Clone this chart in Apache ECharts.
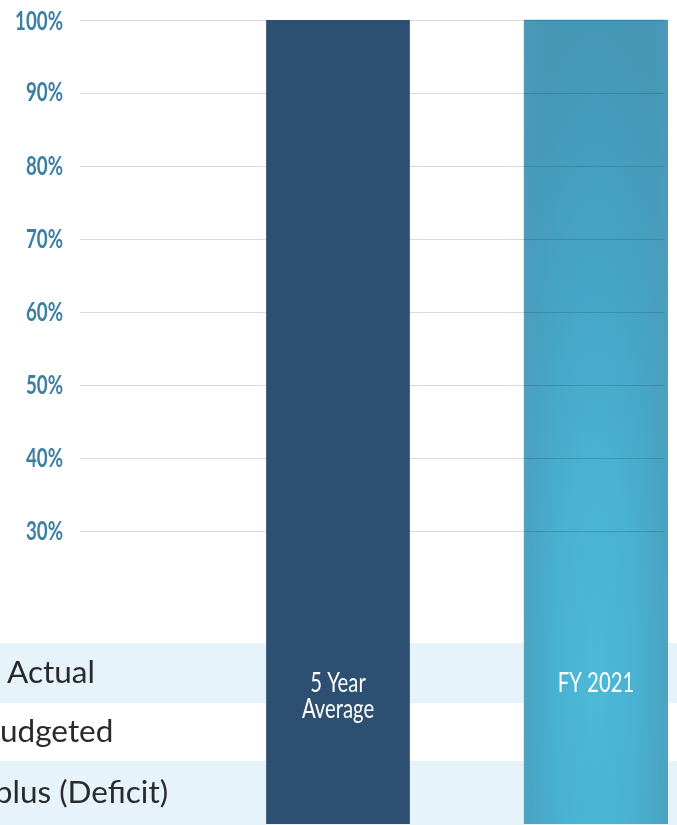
<!DOCTYPE html>
<html>
<head>
<meta charset="utf-8">
<script src="https://cdn.jsdelivr.net/npm/echarts@6/dist/echarts.min.js"></script>
<style>
html,body{margin:0;padding:0;background:#fff;}
#chart{width:677px;height:825px;}
</style>
</head>
<body>
<div id="chart"></div>
<script>
// ---- data ----
const categories = ['5 Year\nAverage', 'FY 2021'];
const values = [100, 100];           // percent
const yTicks = [30, 40, 50, 60, 70, 80, 90, 100];
const tableRows = ['Actual', 'Budgeted', 'Surplus (Deficit)'];

const Y_MIN = -10, Y_MAX = 100, X_MAX = 2.2636;

const chart = echarts.init(document.getElementById('chart'));

const seriesData = values.map((v, i) => [i + 1, v, i]);

// gridline colours: hide lines below first tick label
const lineColors = [];
for (let t = Y_MIN; t <= Y_MAX; t += 10) {
  lineColors.push(yTicks.indexOf(t) >= 0 ? 'rgba(0,0,0,0.14)' : 'rgba(0,0,0,0)');
}

// table row backgrounds (layout)
const rowTops = [643, 703, 761];
const rowBottoms = [703, 761, 825];
const rowFills = ['#e6f3fa', '#ffffff', '#e6f3fa'];
const rowTextX = [7, -20, -51];
const graphics = [];
tableRows.forEach((t, i) => {
  graphics.push({
    type: 'rect', z: 0,
    shape: {x: 0, y: rowTops[i], width: 677, height: rowBottoms[i] - rowTops[i]},
    style: {fill: rowFills[i]}
  });
  graphics.push({
    type: 'text', z: 1,
    x: rowTextX[i], y: (rowTops[i] + rowBottoms[i]) / 2,
    style: {text: t, fill: '#2a2a2a', font: '31.5px Lato', textAlign: 'left', textVerticalAlign: 'middle'}
  });
});

function renderBar(params, api) {
  const x = api.value(0), v = api.value(1), idx = api.value(2);
  const top = api.coord([x, v]);
  const bot = api.coord([x, Y_MIN]);
  const w = api.size([1, 0])[0] * 0.557;
  const rx = top[0] - w / 2, ry = top[1], rh = bot[1] - top[1];
  const children = [];
  if (idx === 0) {
    children.push({type: 'rect', shape: {x: rx, y: ry, width: w, height: rh},
      style: {fill: '#2d4f72'}});
  } else {
    children.push({type: 'rect', shape: {x: rx, y: ry, width: w, height: rh},
      style: {fill: '#4594b3'}});
    children.push({type: 'rect', x: rx, y: ry, scaleY: rh / w,
      shape: {x: 0, y: 0, width: w, height: w},
      style: {fill: {type: 'radial', x: 0.5, y: 0.82, r: 0.95, colorStops: [
        {offset: 0, color: '#4cbad8'}, {offset: 0.3, color: '#49b1d1'},
        {offset: 0.55, color: '#46a4c5'}, {offset: 0.85, color: '#4597b6'}, {offset: 1, color: '#4594b3'}]}}});
    children.push({type: 'rect', shape: {x: rx, y: ry, width: w, height: rh},
      style: {fill: {type: 'linear', x: 0, y: 0, x2: 1, y2: 0, colorStops: [
        {offset: 0, color: 'rgba(80,160,190,0.5)'}, {offset: 0.1, color: 'rgba(80,160,190,0.15)'},
        {offset: 0.2, color: 'rgba(80,160,190,0)'}, {offset: 0.8, color: 'rgba(80,160,190,0)'},
        {offset: 0.9, color: 'rgba(80,160,190,0.15)'}, {offset: 1, color: 'rgba(80,160,190,0.5)'}]}}});
    children.push({type: 'line', shape: {x1: rx - 0.5, y1: ry, x2: rx - 0.5, y2: ry + rh},
      style: {stroke: 'rgba(225,205,160,0.6)', lineWidth: 1}});
    children.push({type: 'line', shape: {x1: rx, y1: ry - 0.5, x2: rx + w, y2: ry - 0.5},
      style: {stroke: 'rgba(225,205,160,0.6)', lineWidth: 1}});
  }
  children.push({
    type: 'text', x: top[0], y: bot[1] - 153, scaleX: 0.78,
    style: {text: categories[idx], fill: '#ffffff', font: '26px Lato',
      textAlign: 'center', textVerticalAlign: 'top', lineHeight: 26}
  });
  return {type: 'group', children: children};
}

function renderTick(params, api) {
  const v = api.value(0);
  const p = api.coord([0, v]);
  return {
    type: 'text', x: 63, y: p[1] + (v === 100 ? 2 : 0), scaleX: 0.72,
    style: {text: v + '%', fill: '#3b80a3', font: 'bold 26px Lato',
      textAlign: 'right', textVerticalAlign: 'middle'}
  };
}

chart.setOption({
  animation: false,
  grid: {left: 80, right: 13, top: 20, bottom: 1},
  xAxis: {type: 'value', min: 0, max: X_MAX, show: false},
  yAxis: {
    type: 'value', min: Y_MIN, max: Y_MAX, interval: 10, z: 5,
    axisLine: {show: false}, axisTick: {show: false},
    axisLabel: {show: false},
    splitLine: {lineStyle: {color: lineColors, width: 1}}
  },
  graphic: graphics,
  series: [{
    type: 'custom', z: 2, clip: false, name: categories[1],
    renderItem: renderBar, encode: {x: 0, y: 1},
    data: [seriesData[1]]
  }, {
    type: 'custom', z: 10, clip: false, name: categories[0],
    renderItem: renderBar, encode: {x: 0, y: 1},
    data: [seriesData[0]]
  }, {
    type: 'custom', z: 10, clip: false, name: 'ticks',
    renderItem: renderTick, encode: {y: 0},
    data: yTicks.map(v => [v])
  }]
});
</script>
</body>
</html>
